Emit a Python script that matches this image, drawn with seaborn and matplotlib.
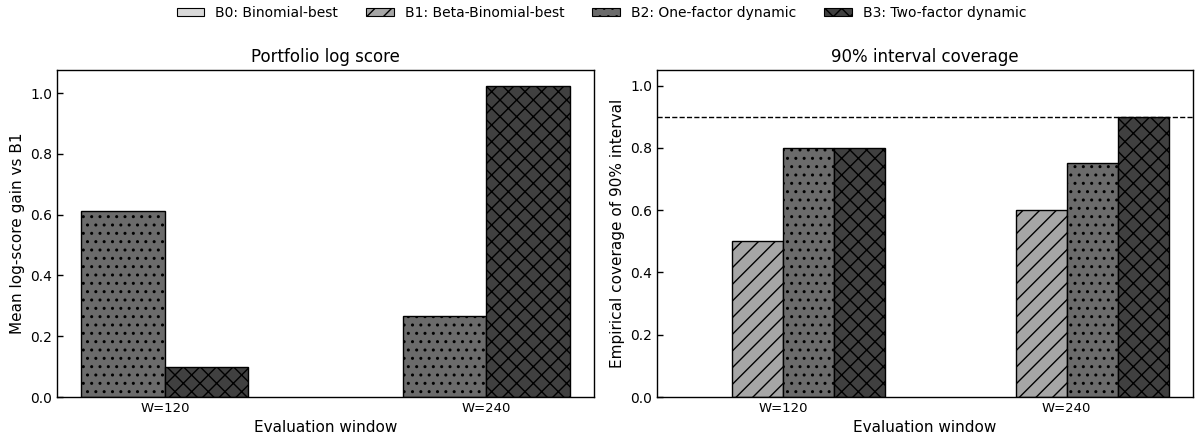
import numpy as np
import pandas as pd
import matplotlib
matplotlib.use("Agg")
import matplotlib.pyplot as plt
from matplotlib.patches import Patch
from matplotlib.colors import to_hex
import seaborn as sns

# ---- data ----
windows = ["W=120", "W=240"]
models = ["B0", "B1", "B2", "B3"]
model_labels = ["B0: Binomial-best", "B1: Beta-Binomial-best",
                "B2: One-factor dynamic", "B3: Two-factor dynamic"]

# mean log-score gain relative to B1 (only dynamic models shown)
logscore_models = ["B2", "B3"]
logscore_b2 = [0.613, 0.267]
logscore_b3 = [0.098, 1.025]

# empirical coverage of the 90% predictive interval (B0 not available)
coverage_b0 = [np.nan, np.nan]
coverage_b1 = [0.50, 0.60]
coverage_b2 = [0.80, 0.75]
coverage_b3 = [0.80, 0.90]
nominal = 0.90

# ---- styling ----
colors = {"B0": "#d9d9d9", "B1": "#a6a6a6", "B2": "#6b6b6b", "B3": "#404040"}
hatches = {"B0": "", "B1": "//", "B2": "..", "B3": "xx"}

sns.set_theme(style="ticks")
plt.rcParams["font.family"] = ["DejaVu Sans"]
plt.rcParams.update({
    "hatch.linewidth": 1.0,
    "hatch.color": "black",
    "text.color": "black",
    "axes.labelcolor": "black",
    "xtick.color": "black",
    "ytick.color": "black",
    "axes.edgecolor": "black",
})

df_log = pd.DataFrame({
    "window": windows * 2,
    "model": ["B2"] * 2 + ["B3"] * 2,
    "value": logscore_b2 + logscore_b3,
})
df_cov = pd.DataFrame({
    "window": windows * 4,
    "model": ["B0"] * 2 + ["B1"] * 2 + ["B2"] * 2 + ["B3"] * 2,
    "value": coverage_b0 + coverage_b1 + coverage_b2 + coverage_b3,
})

fig = plt.figure(figsize=(11.96, 4.36), dpi=100)
ax1 = fig.add_axes([0.0477, 0.0894, 0.4490, 0.75])
ax2 = fig.add_axes([0.5493, 0.0894, 0.4482, 0.75])

sns.barplot(data=df_log, x="window", y="value", hue="model",
            hue_order=logscore_models, order=windows, palette=colors,
            width=0.52, errorbar=None, legend=False, ax=ax1)
sns.barplot(data=df_cov, x="window", y="value", hue="model",
            hue_order=models, order=windows, palette=colors,
            width=0.72, errorbar=None, legend=False, ax=ax2)

color_to_model = {to_hex(c): m for m, c in colors.items()}
for ax in (ax1, ax2):
    for p in ax.patches:
        m = color_to_model.get(to_hex(p.get_facecolor()))
        if m is None:
            continue
        p.set_edgecolor("black")
        p.set_linewidth(1.0)
        p.set_hatch(hatches[m])

ax2.axhline(nominal, color="black", ls="--", lw=1.0)

ax1.set_xlim(-0.336, 1.336)
ax1.set_ylim(0, 1.076)
ax2.set_xlim(-0.446, 1.446)
ax2.set_ylim(0, 1.05)

ax1.set_title("Portfolio log score", fontsize=12)
ax2.set_title("90% interval coverage", fontsize=12)
ax1.set_xlabel("Evaluation window", fontsize=11)
ax2.set_xlabel("Evaluation window", fontsize=11)
ax1.set_ylabel("Mean log-score gain vs B1", fontsize=11)
ax2.set_ylabel("Empirical coverage of 90% interval", fontsize=11)

for ax in (ax1, ax2):
    ax.set_yticks([0.0, 0.2, 0.4, 0.6, 0.8, 1.0])
    ax.tick_params(axis="y", direction="in", labelsize=10, length=4, width=1)
    ax.tick_params(axis="x", direction="in", length=0, labelsize=9.5)
    for s in ax.spines.values():
        s.set_color("black")
        s.set_linewidth(1.0)

handles = [Patch(facecolor=colors[m], edgecolor="black", hatch=hatches[m], lw=0.8)
           for m in models]
fig.legend(handles, model_labels, loc="center", bbox_to_anchor=(0.503, 0.970),
           ncol=4, frameon=False, fontsize=10, columnspacing=2.0,
           handlelength=2.0, handleheight=0.5, handletextpad=0.8)

fig.savefig("out.png", dpi=100)
